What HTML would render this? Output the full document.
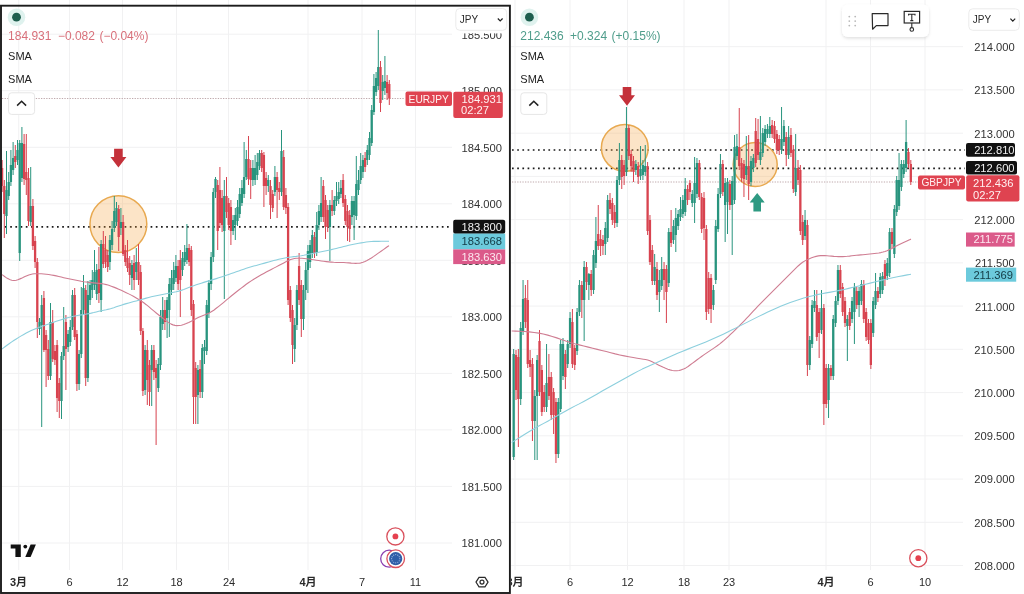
<!DOCTYPE html>
<html><head><meta charset="utf-8"><style>
html,body{margin:0;padding:0;background:#fff;overflow:hidden;}
svg{display:block;}
</style></head><body>
<svg width="1024" height="594" viewBox="0 0 1024 594" font-family='"Liberation Sans", "Noto Sans CJK JP", sans-serif'>
<rect width="1024" height="594" fill="#ffffff"/>
<line x1="2" x2="452" y1="34.2" y2="34.2" stroke="#f1f1f2" stroke-width="1"/>
<line x1="2" x2="452" y1="90.7" y2="90.7" stroke="#f1f1f2" stroke-width="1"/>
<line x1="2" x2="452" y1="147.3" y2="147.3" stroke="#f1f1f2" stroke-width="1"/>
<line x1="2" x2="452" y1="203.8" y2="203.8" stroke="#f1f1f2" stroke-width="1"/>
<line x1="2" x2="452" y1="260.3" y2="260.3" stroke="#f1f1f2" stroke-width="1"/>
<line x1="2" x2="452" y1="316.8" y2="316.8" stroke="#f1f1f2" stroke-width="1"/>
<line x1="2" x2="452" y1="373.4" y2="373.4" stroke="#f1f1f2" stroke-width="1"/>
<line x1="2" x2="452" y1="429.9" y2="429.9" stroke="#f1f1f2" stroke-width="1"/>
<line x1="2" x2="452" y1="486.4" y2="486.4" stroke="#f1f1f2" stroke-width="1"/>
<line x1="2" x2="452" y1="543.0" y2="543.0" stroke="#f1f1f2" stroke-width="1"/>
<line x1="18.75" x2="18.75" y1="0" y2="570" stroke="#f1f1f2" stroke-width="1"/>
<line x1="69.5" x2="69.5" y1="0" y2="570" stroke="#f1f1f2" stroke-width="1"/>
<line x1="122.5" x2="122.5" y1="0" y2="570" stroke="#f1f1f2" stroke-width="1"/>
<line x1="176.5" x2="176.5" y1="0" y2="570" stroke="#f1f1f2" stroke-width="1"/>
<line x1="228.5" x2="228.5" y1="0" y2="570" stroke="#f1f1f2" stroke-width="1"/>
<line x1="308" x2="308" y1="0" y2="570" stroke="#f1f1f2" stroke-width="1"/>
<line x1="362" x2="362" y1="0" y2="570" stroke="#f1f1f2" stroke-width="1"/>
<line x1="415.5" x2="415.5" y1="0" y2="570" stroke="#f1f1f2" stroke-width="1"/>
<line x1="511" x2="963" y1="46.7" y2="46.7" stroke="#f1f1f2" stroke-width="1"/>
<line x1="511" x2="963" y1="89.9" y2="89.9" stroke="#f1f1f2" stroke-width="1"/>
<line x1="511" x2="963" y1="133.2" y2="133.2" stroke="#f1f1f2" stroke-width="1"/>
<line x1="511" x2="963" y1="176.4" y2="176.4" stroke="#f1f1f2" stroke-width="1"/>
<line x1="511" x2="963" y1="219.6" y2="219.6" stroke="#f1f1f2" stroke-width="1"/>
<line x1="511" x2="963" y1="262.9" y2="262.9" stroke="#f1f1f2" stroke-width="1"/>
<line x1="511" x2="963" y1="306.1" y2="306.1" stroke="#f1f1f2" stroke-width="1"/>
<line x1="511" x2="963" y1="349.3" y2="349.3" stroke="#f1f1f2" stroke-width="1"/>
<line x1="511" x2="963" y1="392.6" y2="392.6" stroke="#f1f1f2" stroke-width="1"/>
<line x1="511" x2="963" y1="435.8" y2="435.8" stroke="#f1f1f2" stroke-width="1"/>
<line x1="511" x2="963" y1="479.1" y2="479.1" stroke="#f1f1f2" stroke-width="1"/>
<line x1="511" x2="963" y1="522.3" y2="522.3" stroke="#f1f1f2" stroke-width="1"/>
<line x1="511" x2="963" y1="565.5" y2="565.5" stroke="#f1f1f2" stroke-width="1"/>
<line x1="515" x2="515" y1="0" y2="570" stroke="#f1f1f2" stroke-width="1"/>
<line x1="570" x2="570" y1="0" y2="570" stroke="#f1f1f2" stroke-width="1"/>
<line x1="627.5" x2="627.5" y1="0" y2="570" stroke="#f1f1f2" stroke-width="1"/>
<line x1="684" x2="684" y1="0" y2="570" stroke="#f1f1f2" stroke-width="1"/>
<line x1="729" x2="729" y1="0" y2="570" stroke="#f1f1f2" stroke-width="1"/>
<line x1="826" x2="826" y1="0" y2="570" stroke="#f1f1f2" stroke-width="1"/>
<line x1="870.5" x2="870.5" y1="0" y2="570" stroke="#f1f1f2" stroke-width="1"/>
<line x1="925" x2="925" y1="0" y2="570" stroke="#f1f1f2" stroke-width="1"/>
<line x1="5" y1="226.9" x2="452" y2="226.9" stroke="#1a1a1a" stroke-width="1.7" stroke-dasharray="1.7 3.5"/>
<line x1="512" y1="150.0" x2="965" y2="150.0" stroke="#1a1a1a" stroke-width="1.7" stroke-dasharray="1.7 3.5"/>
<line x1="512" y1="168.4" x2="965" y2="168.4" stroke="#1a1a1a" stroke-width="1.7" stroke-dasharray="1.7 3.5"/>
<line x1="2" y1="98.5" x2="405" y2="98.5" stroke="#bfa9ac" stroke-width="1" stroke-dasharray="1.3 1.3"/>
<line x1="512" y1="182.0" x2="918" y2="182.0" stroke="#bfa9ac" stroke-width="1" stroke-dasharray="1.3 1.3"/>
<circle cx="118.4" cy="224.1" r="28.4" fill="rgba(245,166,70,0.30)" stroke="#e8a950" stroke-width="1.5"/>
<circle cx="624.8" cy="147.8" r="23.4" fill="rgba(245,166,70,0.30)" stroke="#e8a950" stroke-width="1.5"/>
<circle cx="755.2" cy="164.5" r="22.0" fill="rgba(245,166,70,0.30)" stroke="#e8a950" stroke-width="1.5"/>
<rect x="1.60" y="160" width="1.0" height="32" fill="#d8434f"/>
<rect x="0.95" y="168" width="2.3" height="18" fill="#d8434f"/>
<rect x="3.80" y="180" width="1.0" height="58" fill="#d8434f"/>
<rect x="3.15" y="186" width="2.3" height="28" fill="#d8434f"/>
<rect x="6.00" y="151" width="1.0" height="83" fill="#28947e"/>
<rect x="5.35" y="190" width="2.3" height="26" fill="#28947e"/>
<rect x="8.20" y="172" width="1.0" height="28" fill="#28947e"/>
<rect x="7.55" y="182" width="2.3" height="14" fill="#28947e"/>
<rect x="10.40" y="150" width="1.0" height="36" fill="#28947e"/>
<rect x="9.75" y="165" width="2.3" height="17" fill="#28947e"/>
<rect x="12.60" y="142" width="1.0" height="33" fill="#28947e"/>
<rect x="11.95" y="158" width="2.3" height="12" fill="#28947e"/>
<rect x="14.80" y="145" width="1.0" height="23" fill="#d8434f"/>
<rect x="14.15" y="156" width="2.3" height="6" fill="#d8434f"/>
<rect x="17.00" y="140" width="1.0" height="25" fill="#28947e"/>
<rect x="16.35" y="150" width="2.3" height="10" fill="#28947e"/>
<rect x="19.20" y="140" width="1.0" height="121" fill="#28947e"/>
<rect x="18.55" y="143" width="2.3" height="110" fill="#28947e"/>
<rect x="21.40" y="127" width="1.0" height="55" fill="#28947e"/>
<rect x="20.75" y="143" width="2.3" height="35" fill="#28947e"/>
<rect x="23.60" y="134" width="1.0" height="51" fill="#d8434f"/>
<rect x="22.95" y="144" width="2.3" height="35" fill="#d8434f"/>
<rect x="25.80" y="134" width="1.0" height="61" fill="#d8434f"/>
<rect x="25.15" y="172" width="2.3" height="8" fill="#d8434f"/>
<rect x="28.00" y="168" width="1.0" height="58" fill="#d8434f"/>
<rect x="27.35" y="178" width="2.3" height="43" fill="#d8434f"/>
<rect x="30.20" y="167" width="1.0" height="59" fill="#28947e"/>
<rect x="29.55" y="206" width="2.3" height="16" fill="#28947e"/>
<rect x="32.40" y="199" width="1.0" height="51" fill="#d8434f"/>
<rect x="31.75" y="206" width="2.3" height="40" fill="#d8434f"/>
<rect x="34.60" y="236" width="1.0" height="32" fill="#d8434f"/>
<rect x="33.95" y="241" width="2.3" height="21" fill="#d8434f"/>
<rect x="36.80" y="258" width="1.0" height="80" fill="#d8434f"/>
<rect x="36.15" y="262" width="2.3" height="60" fill="#d8434f"/>
<rect x="39.00" y="318" width="1.0" height="17" fill="#28947e"/>
<rect x="38.35" y="322" width="2.3" height="7" fill="#28947e"/>
<rect x="41.20" y="295" width="1.0" height="132" fill="#28947e"/>
<rect x="40.55" y="305" width="2.3" height="20" fill="#28947e"/>
<rect x="43.40" y="291" width="1.0" height="61" fill="#d8434f"/>
<rect x="42.75" y="298" width="2.3" height="52" fill="#d8434f"/>
<rect x="45.60" y="330" width="1.0" height="57" fill="#d8434f"/>
<rect x="44.95" y="335" width="2.3" height="15" fill="#d8434f"/>
<rect x="47.80" y="340" width="1.0" height="40" fill="#d8434f"/>
<rect x="47.15" y="349" width="2.3" height="27" fill="#d8434f"/>
<rect x="50.00" y="303" width="1.0" height="77" fill="#28947e"/>
<rect x="49.35" y="322" width="2.3" height="54" fill="#28947e"/>
<rect x="52.20" y="310" width="1.0" height="52" fill="#d8434f"/>
<rect x="51.55" y="322" width="2.3" height="37" fill="#d8434f"/>
<rect x="54.40" y="345" width="1.0" height="20" fill="#d8434f"/>
<rect x="53.75" y="351" width="2.3" height="9" fill="#d8434f"/>
<rect x="56.60" y="340" width="1.0" height="72" fill="#d8434f"/>
<rect x="55.95" y="345" width="2.3" height="53" fill="#d8434f"/>
<rect x="58.80" y="378" width="1.0" height="40" fill="#d8434f"/>
<rect x="58.15" y="383" width="2.3" height="18" fill="#d8434f"/>
<rect x="61.00" y="352" width="1.0" height="67" fill="#28947e"/>
<rect x="60.35" y="356" width="2.3" height="45" fill="#28947e"/>
<rect x="63.20" y="307" width="1.0" height="53" fill="#28947e"/>
<rect x="62.55" y="346" width="2.3" height="10" fill="#28947e"/>
<rect x="65.40" y="315" width="1.0" height="75" fill="#d8434f"/>
<rect x="64.75" y="322" width="2.3" height="27" fill="#d8434f"/>
<rect x="67.60" y="330" width="1.0" height="22" fill="#28947e"/>
<rect x="66.95" y="334" width="2.3" height="13" fill="#28947e"/>
<rect x="69.80" y="320" width="1.0" height="26" fill="#28947e"/>
<rect x="69.15" y="327" width="2.3" height="15" fill="#28947e"/>
<rect x="72.00" y="290" width="1.0" height="40" fill="#28947e"/>
<rect x="71.35" y="295" width="2.3" height="32" fill="#28947e"/>
<rect x="74.20" y="288" width="1.0" height="52" fill="#d8434f"/>
<rect x="73.55" y="295" width="2.3" height="42" fill="#d8434f"/>
<rect x="76.40" y="330" width="1.0" height="61" fill="#d8434f"/>
<rect x="75.75" y="334" width="2.3" height="50" fill="#d8434f"/>
<rect x="78.60" y="350" width="1.0" height="40" fill="#28947e"/>
<rect x="77.95" y="354" width="2.3" height="30" fill="#28947e"/>
<rect x="80.80" y="287" width="1.0" height="71" fill="#28947e"/>
<rect x="80.15" y="310" width="2.3" height="44" fill="#28947e"/>
<rect x="83.00" y="275" width="1.0" height="40" fill="#28947e"/>
<rect x="82.35" y="288" width="2.3" height="22" fill="#28947e"/>
<rect x="85.20" y="285" width="1.0" height="101" fill="#d8434f"/>
<rect x="84.55" y="290" width="2.3" height="88" fill="#d8434f"/>
<rect x="87.40" y="281" width="1.0" height="101" fill="#28947e"/>
<rect x="86.75" y="295" width="2.3" height="83" fill="#28947e"/>
<rect x="89.60" y="280" width="1.0" height="25" fill="#28947e"/>
<rect x="88.95" y="285" width="2.3" height="15" fill="#28947e"/>
<rect x="91.80" y="270" width="1.0" height="28" fill="#28947e"/>
<rect x="91.15" y="280" width="2.3" height="10" fill="#28947e"/>
<rect x="94.00" y="250" width="1.0" height="40" fill="#28947e"/>
<rect x="93.35" y="272" width="2.3" height="13" fill="#28947e"/>
<rect x="96.20" y="264" width="1.0" height="36" fill="#28947e"/>
<rect x="95.55" y="270" width="2.3" height="24" fill="#28947e"/>
<rect x="98.40" y="247" width="1.0" height="56" fill="#d8434f"/>
<rect x="97.75" y="269" width="2.3" height="24" fill="#d8434f"/>
<rect x="100.60" y="240" width="1.0" height="72" fill="#28947e"/>
<rect x="99.95" y="244" width="2.3" height="56" fill="#28947e"/>
<rect x="102.80" y="231" width="1.0" height="37" fill="#d8434f"/>
<rect x="102.15" y="244" width="2.3" height="20" fill="#d8434f"/>
<rect x="105.00" y="236" width="1.0" height="32" fill="#d8434f"/>
<rect x="104.35" y="250" width="2.3" height="12" fill="#d8434f"/>
<rect x="107.20" y="250" width="1.0" height="22" fill="#d8434f"/>
<rect x="106.55" y="255" width="2.3" height="12" fill="#d8434f"/>
<rect x="109.40" y="235" width="1.0" height="35" fill="#28947e"/>
<rect x="108.75" y="240" width="2.3" height="22" fill="#28947e"/>
<rect x="111.60" y="221" width="1.0" height="29" fill="#28947e"/>
<rect x="110.95" y="229" width="2.3" height="16" fill="#28947e"/>
<rect x="113.80" y="196" width="1.0" height="36" fill="#28947e"/>
<rect x="113.15" y="211" width="2.3" height="17" fill="#28947e"/>
<rect x="116.00" y="202" width="1.0" height="24" fill="#28947e"/>
<rect x="115.35" y="208" width="2.3" height="14" fill="#28947e"/>
<rect x="118.20" y="205" width="1.0" height="46" fill="#d8434f"/>
<rect x="117.55" y="209" width="2.3" height="28" fill="#d8434f"/>
<rect x="120.40" y="208" width="1.0" height="27" fill="#28947e"/>
<rect x="119.75" y="222" width="2.3" height="6" fill="#28947e"/>
<rect x="122.60" y="215" width="1.0" height="41" fill="#d8434f"/>
<rect x="121.95" y="222" width="2.3" height="32" fill="#d8434f"/>
<rect x="124.80" y="245" width="1.0" height="21" fill="#d8434f"/>
<rect x="124.15" y="250" width="2.3" height="12" fill="#d8434f"/>
<rect x="127.00" y="240" width="1.0" height="32" fill="#d8434f"/>
<rect x="126.35" y="258" width="2.3" height="10" fill="#d8434f"/>
<rect x="129.20" y="256" width="1.0" height="29" fill="#d8434f"/>
<rect x="128.55" y="263" width="2.3" height="12" fill="#d8434f"/>
<rect x="131.40" y="260" width="1.0" height="30" fill="#28947e"/>
<rect x="130.75" y="265" width="2.3" height="13" fill="#28947e"/>
<rect x="133.60" y="255" width="1.0" height="35" fill="#d8434f"/>
<rect x="132.95" y="263" width="2.3" height="17" fill="#d8434f"/>
<rect x="135.80" y="248" width="1.0" height="32" fill="#28947e"/>
<rect x="135.15" y="262" width="2.3" height="10" fill="#28947e"/>
<rect x="138.00" y="244" width="1.0" height="41" fill="#d8434f"/>
<rect x="137.35" y="262" width="2.3" height="18" fill="#d8434f"/>
<rect x="140.20" y="265" width="1.0" height="70" fill="#d8434f"/>
<rect x="139.55" y="272" width="2.3" height="59" fill="#d8434f"/>
<rect x="142.40" y="328" width="1.0" height="68" fill="#d8434f"/>
<rect x="141.75" y="331" width="2.3" height="60" fill="#d8434f"/>
<rect x="144.60" y="345" width="1.0" height="50" fill="#28947e"/>
<rect x="143.95" y="350" width="2.3" height="40" fill="#28947e"/>
<rect x="146.80" y="340" width="1.0" height="65" fill="#d8434f"/>
<rect x="146.15" y="350" width="2.3" height="30" fill="#d8434f"/>
<rect x="149.00" y="360" width="1.0" height="46" fill="#d8434f"/>
<rect x="148.35" y="365" width="2.3" height="27" fill="#d8434f"/>
<rect x="151.20" y="345" width="1.0" height="61" fill="#28947e"/>
<rect x="150.55" y="350" width="2.3" height="20" fill="#28947e"/>
<rect x="153.40" y="345" width="1.0" height="35" fill="#d8434f"/>
<rect x="152.75" y="350" width="2.3" height="22" fill="#d8434f"/>
<rect x="155.60" y="360" width="1.0" height="85" fill="#d8434f"/>
<rect x="154.95" y="368" width="2.3" height="10" fill="#d8434f"/>
<rect x="157.80" y="358" width="1.0" height="34" fill="#28947e"/>
<rect x="157.15" y="364" width="2.3" height="24" fill="#28947e"/>
<rect x="160.00" y="310" width="1.0" height="60" fill="#28947e"/>
<rect x="159.35" y="317" width="2.3" height="48" fill="#28947e"/>
<rect x="162.20" y="297" width="1.0" height="33" fill="#28947e"/>
<rect x="161.55" y="310" width="2.3" height="14" fill="#28947e"/>
<rect x="164.40" y="300" width="1.0" height="30" fill="#d8434f"/>
<rect x="163.75" y="310" width="2.3" height="12" fill="#d8434f"/>
<rect x="166.60" y="297" width="1.0" height="41" fill="#28947e"/>
<rect x="165.95" y="300" width="2.3" height="18" fill="#28947e"/>
<rect x="168.80" y="278" width="1.0" height="59" fill="#28947e"/>
<rect x="168.15" y="284" width="2.3" height="26" fill="#28947e"/>
<rect x="171.00" y="270" width="1.0" height="25" fill="#28947e"/>
<rect x="170.35" y="278" width="2.3" height="12" fill="#28947e"/>
<rect x="173.20" y="262" width="1.0" height="28" fill="#28947e"/>
<rect x="172.55" y="270" width="2.3" height="14" fill="#28947e"/>
<rect x="175.40" y="255" width="1.0" height="27" fill="#28947e"/>
<rect x="174.75" y="266" width="2.3" height="12" fill="#28947e"/>
<rect x="177.60" y="260" width="1.0" height="30" fill="#d8434f"/>
<rect x="176.95" y="266" width="2.3" height="18" fill="#d8434f"/>
<rect x="179.80" y="250" width="1.0" height="67" fill="#d8434f"/>
<rect x="179.15" y="260" width="2.3" height="20" fill="#d8434f"/>
<rect x="182.00" y="252" width="1.0" height="24" fill="#28947e"/>
<rect x="181.35" y="258" width="2.3" height="12" fill="#28947e"/>
<rect x="184.20" y="245" width="1.0" height="21" fill="#28947e"/>
<rect x="183.55" y="252" width="2.3" height="10" fill="#28947e"/>
<rect x="186.40" y="224" width="1.0" height="40" fill="#28947e"/>
<rect x="185.75" y="248" width="2.3" height="12" fill="#28947e"/>
<rect x="188.60" y="244" width="1.0" height="22" fill="#d8434f"/>
<rect x="187.95" y="248" width="2.3" height="14" fill="#d8434f"/>
<rect x="190.80" y="246" width="1.0" height="70" fill="#d8434f"/>
<rect x="190.15" y="250" width="2.3" height="60" fill="#d8434f"/>
<rect x="193.00" y="300" width="1.0" height="124" fill="#d8434f"/>
<rect x="192.35" y="304" width="2.3" height="93" fill="#d8434f"/>
<rect x="195.20" y="362" width="1.0" height="62" fill="#d8434f"/>
<rect x="194.55" y="368" width="2.3" height="29" fill="#d8434f"/>
<rect x="197.40" y="365" width="1.0" height="59" fill="#28947e"/>
<rect x="196.75" y="370" width="2.3" height="25" fill="#28947e"/>
<rect x="199.60" y="360" width="1.0" height="38" fill="#d8434f"/>
<rect x="198.95" y="369" width="2.3" height="23" fill="#d8434f"/>
<rect x="201.80" y="344" width="1.0" height="54" fill="#28947e"/>
<rect x="201.15" y="348" width="2.3" height="44" fill="#28947e"/>
<rect x="204.00" y="340" width="1.0" height="24" fill="#28947e"/>
<rect x="203.35" y="347" width="2.3" height="4" fill="#28947e"/>
<rect x="206.20" y="300" width="1.0" height="55" fill="#28947e"/>
<rect x="205.55" y="305" width="2.3" height="46" fill="#28947e"/>
<rect x="208.40" y="280" width="1.0" height="38" fill="#28947e"/>
<rect x="207.75" y="283" width="2.3" height="30" fill="#28947e"/>
<rect x="210.60" y="252" width="1.0" height="38" fill="#28947e"/>
<rect x="209.95" y="257" width="2.3" height="27" fill="#28947e"/>
<rect x="212.80" y="188" width="1.0" height="74" fill="#28947e"/>
<rect x="212.15" y="192" width="2.3" height="65" fill="#28947e"/>
<rect x="215.00" y="177" width="1.0" height="21" fill="#28947e"/>
<rect x="214.35" y="179" width="2.3" height="13" fill="#28947e"/>
<rect x="217.20" y="180" width="1.0" height="70" fill="#d8434f"/>
<rect x="216.55" y="185" width="2.3" height="46" fill="#d8434f"/>
<rect x="219.40" y="167" width="1.0" height="61" fill="#d8434f"/>
<rect x="218.75" y="190" width="2.3" height="33" fill="#d8434f"/>
<rect x="221.60" y="190" width="1.0" height="42" fill="#d8434f"/>
<rect x="220.95" y="198" width="2.3" height="27" fill="#d8434f"/>
<rect x="223.80" y="180" width="1.0" height="119" fill="#28947e"/>
<rect x="223.15" y="196" width="2.3" height="35" fill="#28947e"/>
<rect x="226.00" y="177" width="1.0" height="41" fill="#d8434f"/>
<rect x="225.35" y="196" width="2.3" height="16" fill="#d8434f"/>
<rect x="228.20" y="198" width="1.0" height="32" fill="#d8434f"/>
<rect x="227.55" y="203" width="2.3" height="22" fill="#d8434f"/>
<rect x="230.40" y="200" width="1.0" height="45" fill="#d8434f"/>
<rect x="229.75" y="207" width="2.3" height="24" fill="#d8434f"/>
<rect x="232.60" y="215" width="1.0" height="20" fill="#28947e"/>
<rect x="231.95" y="220" width="2.3" height="11" fill="#28947e"/>
<rect x="234.80" y="208" width="1.0" height="32" fill="#28947e"/>
<rect x="234.15" y="215" width="2.3" height="10" fill="#28947e"/>
<rect x="237.00" y="200" width="1.0" height="26" fill="#28947e"/>
<rect x="236.35" y="207" width="2.3" height="14" fill="#28947e"/>
<rect x="239.20" y="188" width="1.0" height="30" fill="#28947e"/>
<rect x="238.55" y="194" width="2.3" height="20" fill="#28947e"/>
<rect x="241.40" y="180" width="1.0" height="26" fill="#28947e"/>
<rect x="240.75" y="188" width="2.3" height="15" fill="#28947e"/>
<rect x="243.60" y="142" width="1.0" height="56" fill="#28947e"/>
<rect x="242.95" y="177" width="2.3" height="17" fill="#28947e"/>
<rect x="245.80" y="150" width="1.0" height="30" fill="#28947e"/>
<rect x="245.15" y="159" width="2.3" height="18" fill="#28947e"/>
<rect x="248.00" y="136" width="1.0" height="49" fill="#d8434f"/>
<rect x="247.35" y="159" width="2.3" height="20" fill="#d8434f"/>
<rect x="250.20" y="160" width="1.0" height="39" fill="#d8434f"/>
<rect x="249.55" y="168" width="2.3" height="12" fill="#d8434f"/>
<rect x="252.40" y="160" width="1.0" height="26" fill="#28947e"/>
<rect x="251.75" y="168" width="2.3" height="12" fill="#28947e"/>
<rect x="254.60" y="155" width="1.0" height="30" fill="#28947e"/>
<rect x="253.95" y="168" width="2.3" height="12" fill="#28947e"/>
<rect x="256.80" y="153" width="1.0" height="27" fill="#28947e"/>
<rect x="256.15" y="162" width="2.3" height="13" fill="#28947e"/>
<rect x="259.00" y="150" width="1.0" height="20" fill="#28947e"/>
<rect x="258.35" y="153" width="2.3" height="13" fill="#28947e"/>
<rect x="261.20" y="150" width="1.0" height="22" fill="#d8434f"/>
<rect x="260.55" y="153" width="2.3" height="15" fill="#d8434f"/>
<rect x="263.40" y="152" width="1.0" height="55" fill="#d8434f"/>
<rect x="262.75" y="155" width="2.3" height="31" fill="#d8434f"/>
<rect x="265.60" y="172" width="1.0" height="23" fill="#d8434f"/>
<rect x="264.95" y="178" width="2.3" height="8" fill="#d8434f"/>
<rect x="267.80" y="175" width="1.0" height="17" fill="#28947e"/>
<rect x="267.15" y="180" width="2.3" height="6" fill="#28947e"/>
<rect x="270.00" y="180" width="1.0" height="39" fill="#d8434f"/>
<rect x="269.35" y="186" width="2.3" height="19" fill="#d8434f"/>
<rect x="272.20" y="190" width="1.0" height="22" fill="#d8434f"/>
<rect x="271.55" y="194" width="2.3" height="14" fill="#d8434f"/>
<rect x="274.40" y="166" width="1.0" height="30" fill="#28947e"/>
<rect x="273.75" y="177" width="2.3" height="15" fill="#28947e"/>
<rect x="276.60" y="172" width="1.0" height="46" fill="#d8434f"/>
<rect x="275.95" y="177" width="2.3" height="13" fill="#d8434f"/>
<rect x="278.80" y="182" width="1.0" height="18" fill="#d8434f"/>
<rect x="278.15" y="188" width="2.3" height="4" fill="#d8434f"/>
<rect x="281.00" y="130" width="1.0" height="66" fill="#28947e"/>
<rect x="280.35" y="151" width="2.3" height="41" fill="#28947e"/>
<rect x="283.20" y="150" width="1.0" height="60" fill="#d8434f"/>
<rect x="282.55" y="157" width="2.3" height="50" fill="#d8434f"/>
<rect x="285.40" y="188" width="1.0" height="26" fill="#d8434f"/>
<rect x="284.75" y="195" width="2.3" height="13" fill="#d8434f"/>
<rect x="287.60" y="203" width="1.0" height="102" fill="#d8434f"/>
<rect x="286.95" y="207" width="2.3" height="93" fill="#d8434f"/>
<rect x="289.80" y="286" width="1.0" height="36" fill="#d8434f"/>
<rect x="289.15" y="290" width="2.3" height="28" fill="#d8434f"/>
<rect x="292.00" y="305" width="1.0" height="59" fill="#d8434f"/>
<rect x="291.35" y="310" width="2.3" height="35" fill="#d8434f"/>
<rect x="294.20" y="318" width="1.0" height="44" fill="#28947e"/>
<rect x="293.55" y="325" width="2.3" height="24" fill="#28947e"/>
<rect x="296.40" y="285" width="1.0" height="45" fill="#28947e"/>
<rect x="295.75" y="290" width="2.3" height="35" fill="#28947e"/>
<rect x="298.60" y="253" width="1.0" height="52" fill="#d8434f"/>
<rect x="297.95" y="266" width="2.3" height="34" fill="#d8434f"/>
<rect x="300.80" y="280" width="1.0" height="57" fill="#d8434f"/>
<rect x="300.15" y="285" width="2.3" height="34" fill="#d8434f"/>
<rect x="303.00" y="285" width="1.0" height="45" fill="#28947e"/>
<rect x="302.35" y="290" width="2.3" height="29" fill="#28947e"/>
<rect x="305.20" y="262" width="1.0" height="38" fill="#28947e"/>
<rect x="304.55" y="270" width="2.3" height="20" fill="#28947e"/>
<rect x="307.40" y="245" width="1.0" height="48" fill="#28947e"/>
<rect x="306.75" y="251" width="2.3" height="19" fill="#28947e"/>
<rect x="309.60" y="240" width="1.0" height="28" fill="#28947e"/>
<rect x="308.95" y="245" width="2.3" height="17" fill="#28947e"/>
<rect x="311.80" y="230" width="1.0" height="28" fill="#28947e"/>
<rect x="311.15" y="235" width="2.3" height="18" fill="#28947e"/>
<rect x="314.00" y="232" width="1.0" height="26" fill="#d8434f"/>
<rect x="313.35" y="237" width="2.3" height="16" fill="#d8434f"/>
<rect x="316.20" y="212" width="1.0" height="44" fill="#28947e"/>
<rect x="315.55" y="225" width="2.3" height="28" fill="#28947e"/>
<rect x="318.40" y="205" width="1.0" height="25" fill="#28947e"/>
<rect x="317.75" y="211" width="2.3" height="14" fill="#28947e"/>
<rect x="320.60" y="177" width="1.0" height="45" fill="#28947e"/>
<rect x="319.95" y="203" width="2.3" height="14" fill="#28947e"/>
<rect x="322.80" y="180" width="1.0" height="42" fill="#d8434f"/>
<rect x="322.15" y="186" width="2.3" height="31" fill="#d8434f"/>
<rect x="325.00" y="195" width="1.0" height="44" fill="#d8434f"/>
<rect x="324.35" y="200" width="2.3" height="27" fill="#d8434f"/>
<rect x="327.20" y="205" width="1.0" height="27" fill="#d8434f"/>
<rect x="326.55" y="210" width="2.3" height="17" fill="#d8434f"/>
<rect x="329.40" y="200" width="1.0" height="61" fill="#28947e"/>
<rect x="328.75" y="205" width="2.3" height="22" fill="#28947e"/>
<rect x="331.60" y="190" width="1.0" height="26" fill="#d8434f"/>
<rect x="330.95" y="205" width="2.3" height="6" fill="#d8434f"/>
<rect x="333.80" y="196" width="1.0" height="19" fill="#28947e"/>
<rect x="333.15" y="200" width="2.3" height="11" fill="#28947e"/>
<rect x="336.00" y="182" width="1.0" height="24" fill="#28947e"/>
<rect x="335.35" y="196" width="2.3" height="5" fill="#28947e"/>
<rect x="338.20" y="182" width="1.0" height="22" fill="#28947e"/>
<rect x="337.55" y="192" width="2.3" height="7" fill="#28947e"/>
<rect x="340.40" y="180" width="1.0" height="18" fill="#28947e"/>
<rect x="339.75" y="188" width="2.3" height="6" fill="#28947e"/>
<rect x="342.60" y="174" width="1.0" height="33" fill="#d8434f"/>
<rect x="341.95" y="180" width="2.3" height="23" fill="#d8434f"/>
<rect x="344.80" y="195" width="1.0" height="30" fill="#d8434f"/>
<rect x="344.15" y="199" width="2.3" height="22" fill="#d8434f"/>
<rect x="347.00" y="205" width="1.0" height="36" fill="#d8434f"/>
<rect x="346.35" y="211" width="2.3" height="16" fill="#d8434f"/>
<rect x="349.20" y="210" width="1.0" height="32" fill="#d8434f"/>
<rect x="348.55" y="215" width="2.3" height="14" fill="#d8434f"/>
<rect x="351.40" y="196" width="1.0" height="29" fill="#28947e"/>
<rect x="350.75" y="201" width="2.3" height="16" fill="#28947e"/>
<rect x="353.60" y="196" width="1.0" height="44" fill="#28947e"/>
<rect x="352.95" y="201" width="2.3" height="14" fill="#28947e"/>
<rect x="355.80" y="156" width="1.0" height="64" fill="#28947e"/>
<rect x="355.15" y="184" width="2.3" height="32" fill="#28947e"/>
<rect x="358.00" y="170" width="1.0" height="25" fill="#28947e"/>
<rect x="357.35" y="180" width="2.3" height="10" fill="#28947e"/>
<rect x="360.20" y="153" width="1.0" height="31" fill="#28947e"/>
<rect x="359.55" y="166" width="2.3" height="14" fill="#28947e"/>
<rect x="362.40" y="155" width="1.0" height="23" fill="#28947e"/>
<rect x="361.75" y="160" width="2.3" height="12" fill="#28947e"/>
<rect x="364.60" y="152" width="1.0" height="20" fill="#d8434f"/>
<rect x="363.95" y="158" width="2.3" height="9" fill="#d8434f"/>
<rect x="366.80" y="145" width="1.0" height="20" fill="#28947e"/>
<rect x="366.15" y="150" width="2.3" height="10" fill="#28947e"/>
<rect x="369.00" y="132" width="1.0" height="28" fill="#28947e"/>
<rect x="368.35" y="138" width="2.3" height="17" fill="#28947e"/>
<rect x="371.20" y="105" width="1.0" height="41" fill="#28947e"/>
<rect x="370.55" y="110" width="2.3" height="33" fill="#28947e"/>
<rect x="373.40" y="74" width="1.0" height="41" fill="#28947e"/>
<rect x="372.75" y="86" width="2.3" height="26" fill="#28947e"/>
<rect x="375.60" y="72" width="1.0" height="24" fill="#28947e"/>
<rect x="374.95" y="78" width="2.3" height="14" fill="#28947e"/>
<rect x="377.80" y="30" width="1.0" height="60" fill="#28947e"/>
<rect x="377.15" y="67" width="2.3" height="19" fill="#28947e"/>
<rect x="380.00" y="61" width="1.0" height="51" fill="#d8434f"/>
<rect x="379.35" y="67" width="2.3" height="36" fill="#d8434f"/>
<rect x="382.20" y="75" width="1.0" height="25" fill="#28947e"/>
<rect x="381.55" y="82" width="2.3" height="9" fill="#28947e"/>
<rect x="384.40" y="56" width="1.0" height="39" fill="#28947e"/>
<rect x="383.75" y="81" width="2.3" height="7" fill="#28947e"/>
<rect x="386.60" y="75" width="1.0" height="25" fill="#d8434f"/>
<rect x="385.95" y="82" width="2.3" height="11" fill="#d8434f"/>
<rect x="388.80" y="80" width="1.0" height="25" fill="#d8434f"/>
<rect x="388.15" y="84" width="2.3" height="14.5" fill="#d8434f"/>
<rect x="513.15" y="349" width="1.0" height="111" fill="#28947e"/>
<rect x="512.50" y="354" width="2.3" height="103" fill="#28947e"/>
<rect x="515.50" y="350" width="1.0" height="50" fill="#d8434f"/>
<rect x="514.85" y="355" width="2.3" height="35" fill="#d8434f"/>
<rect x="517.85" y="349" width="1.0" height="98" fill="#d8434f"/>
<rect x="517.20" y="357" width="2.3" height="42" fill="#d8434f"/>
<rect x="520.20" y="322" width="1.0" height="83" fill="#28947e"/>
<rect x="519.55" y="328" width="2.3" height="71" fill="#28947e"/>
<rect x="522.55" y="280" width="1.0" height="55" fill="#28947e"/>
<rect x="521.90" y="299" width="2.3" height="32" fill="#28947e"/>
<rect x="524.90" y="285" width="1.0" height="43" fill="#d8434f"/>
<rect x="524.25" y="298" width="2.3" height="24" fill="#d8434f"/>
<rect x="527.25" y="280" width="1.0" height="88" fill="#d8434f"/>
<rect x="526.60" y="300" width="2.3" height="64" fill="#d8434f"/>
<rect x="529.60" y="350" width="1.0" height="27" fill="#d8434f"/>
<rect x="528.95" y="360" width="2.3" height="7" fill="#d8434f"/>
<rect x="531.95" y="358" width="1.0" height="83" fill="#d8434f"/>
<rect x="531.30" y="364" width="2.3" height="57" fill="#d8434f"/>
<rect x="534.30" y="390" width="1.0" height="70" fill="#28947e"/>
<rect x="533.65" y="396" width="2.3" height="25" fill="#28947e"/>
<rect x="536.65" y="355" width="1.0" height="105" fill="#28947e"/>
<rect x="536.00" y="360" width="2.3" height="36" fill="#28947e"/>
<rect x="539.00" y="330" width="1.0" height="66" fill="#d8434f"/>
<rect x="538.35" y="341" width="2.3" height="51" fill="#d8434f"/>
<rect x="541.35" y="365" width="1.0" height="51" fill="#d8434f"/>
<rect x="540.70" y="370" width="2.3" height="42" fill="#d8434f"/>
<rect x="543.70" y="385" width="1.0" height="27" fill="#d8434f"/>
<rect x="543.05" y="392" width="2.3" height="15" fill="#d8434f"/>
<rect x="546.05" y="344" width="1.0" height="68" fill="#28947e"/>
<rect x="545.40" y="383" width="2.3" height="24" fill="#28947e"/>
<rect x="548.40" y="354" width="1.0" height="46" fill="#d8434f"/>
<rect x="547.75" y="377" width="2.3" height="19" fill="#d8434f"/>
<rect x="550.75" y="372" width="1.0" height="48" fill="#d8434f"/>
<rect x="550.10" y="377" width="2.3" height="38" fill="#d8434f"/>
<rect x="553.10" y="388" width="1.0" height="46" fill="#d8434f"/>
<rect x="552.45" y="392" width="2.3" height="23" fill="#d8434f"/>
<rect x="555.45" y="398" width="1.0" height="65" fill="#d8434f"/>
<rect x="554.80" y="402" width="2.3" height="52" fill="#d8434f"/>
<rect x="557.80" y="398" width="1.0" height="60" fill="#28947e"/>
<rect x="557.15" y="402" width="2.3" height="52" fill="#28947e"/>
<rect x="560.15" y="340" width="1.0" height="72" fill="#28947e"/>
<rect x="559.50" y="344" width="2.3" height="65" fill="#28947e"/>
<rect x="562.50" y="338" width="1.0" height="42" fill="#28947e"/>
<rect x="561.85" y="344" width="2.3" height="32" fill="#28947e"/>
<rect x="564.85" y="350" width="1.0" height="39" fill="#d8434f"/>
<rect x="564.20" y="354" width="2.3" height="23" fill="#d8434f"/>
<rect x="567.20" y="340" width="1.0" height="28" fill="#28947e"/>
<rect x="566.55" y="344" width="2.3" height="20" fill="#28947e"/>
<rect x="569.55" y="312" width="1.0" height="36" fill="#28947e"/>
<rect x="568.90" y="318" width="2.3" height="26" fill="#28947e"/>
<rect x="571.90" y="309" width="1.0" height="59" fill="#d8434f"/>
<rect x="571.25" y="322" width="2.3" height="42" fill="#d8434f"/>
<rect x="574.25" y="345" width="1.0" height="25" fill="#d8434f"/>
<rect x="573.60" y="348" width="2.3" height="17" fill="#d8434f"/>
<rect x="576.60" y="308" width="1.0" height="47" fill="#28947e"/>
<rect x="575.95" y="312" width="2.3" height="39" fill="#28947e"/>
<rect x="578.95" y="280" width="1.0" height="36" fill="#28947e"/>
<rect x="578.30" y="285" width="2.3" height="27" fill="#28947e"/>
<rect x="581.30" y="281" width="1.0" height="37" fill="#d8434f"/>
<rect x="580.65" y="285" width="2.3" height="15" fill="#d8434f"/>
<rect x="583.65" y="261" width="1.0" height="80" fill="#28947e"/>
<rect x="583.00" y="267" width="2.3" height="33" fill="#28947e"/>
<rect x="586.00" y="262" width="1.0" height="28" fill="#d8434f"/>
<rect x="585.35" y="267" width="2.3" height="15" fill="#d8434f"/>
<rect x="588.35" y="273" width="1.0" height="27" fill="#28947e"/>
<rect x="587.70" y="274" width="2.3" height="11" fill="#28947e"/>
<rect x="590.70" y="270" width="1.0" height="26" fill="#d8434f"/>
<rect x="590.05" y="274" width="2.3" height="16" fill="#d8434f"/>
<rect x="593.05" y="250" width="1.0" height="44" fill="#28947e"/>
<rect x="592.40" y="255" width="2.3" height="35" fill="#28947e"/>
<rect x="595.40" y="217" width="1.0" height="51" fill="#28947e"/>
<rect x="594.75" y="241" width="2.3" height="22" fill="#28947e"/>
<rect x="597.75" y="205" width="1.0" height="45" fill="#d8434f"/>
<rect x="597.10" y="234" width="2.3" height="12" fill="#d8434f"/>
<rect x="600.10" y="230" width="1.0" height="26" fill="#d8434f"/>
<rect x="599.45" y="239" width="2.3" height="7" fill="#d8434f"/>
<rect x="602.45" y="235" width="1.0" height="20" fill="#d8434f"/>
<rect x="601.80" y="240" width="2.3" height="6" fill="#d8434f"/>
<rect x="604.80" y="222" width="1.0" height="33" fill="#28947e"/>
<rect x="604.15" y="228" width="2.3" height="16" fill="#28947e"/>
<rect x="607.15" y="195" width="1.0" height="47" fill="#28947e"/>
<rect x="606.50" y="200" width="2.3" height="38" fill="#28947e"/>
<rect x="609.50" y="193" width="1.0" height="21" fill="#d8434f"/>
<rect x="608.85" y="200" width="2.3" height="9" fill="#d8434f"/>
<rect x="611.85" y="198" width="1.0" height="27" fill="#d8434f"/>
<rect x="611.20" y="203" width="2.3" height="17" fill="#d8434f"/>
<rect x="614.20" y="205" width="1.0" height="23" fill="#d8434f"/>
<rect x="613.55" y="212" width="2.3" height="11" fill="#d8434f"/>
<rect x="616.55" y="176" width="1.0" height="51" fill="#28947e"/>
<rect x="615.90" y="180" width="2.3" height="43" fill="#28947e"/>
<rect x="618.90" y="143" width="1.0" height="42" fill="#28947e"/>
<rect x="618.25" y="160" width="2.3" height="20" fill="#28947e"/>
<rect x="621.25" y="155" width="1.0" height="34" fill="#d8434f"/>
<rect x="620.60" y="160" width="2.3" height="17" fill="#d8434f"/>
<rect x="623.60" y="160" width="1.0" height="25" fill="#d8434f"/>
<rect x="622.95" y="165" width="2.3" height="11" fill="#d8434f"/>
<rect x="625.95" y="107" width="1.0" height="69" fill="#28947e"/>
<rect x="625.30" y="128" width="2.3" height="44" fill="#28947e"/>
<rect x="628.30" y="125" width="1.0" height="35" fill="#d8434f"/>
<rect x="627.65" y="128" width="2.3" height="28" fill="#d8434f"/>
<rect x="630.65" y="150" width="1.0" height="22" fill="#d8434f"/>
<rect x="630.00" y="154" width="2.3" height="12" fill="#d8434f"/>
<rect x="633.00" y="156" width="1.0" height="26" fill="#d8434f"/>
<rect x="632.35" y="161" width="2.3" height="11" fill="#d8434f"/>
<rect x="635.35" y="160" width="1.0" height="15" fill="#28947e"/>
<rect x="634.70" y="164" width="2.3" height="6" fill="#28947e"/>
<rect x="637.70" y="162" width="1.0" height="22" fill="#d8434f"/>
<rect x="637.05" y="166" width="2.3" height="11" fill="#d8434f"/>
<rect x="640.05" y="146" width="1.0" height="34" fill="#28947e"/>
<rect x="639.40" y="169" width="2.3" height="7" fill="#28947e"/>
<rect x="642.40" y="160" width="1.0" height="20" fill="#28947e"/>
<rect x="641.75" y="165" width="2.3" height="10" fill="#28947e"/>
<rect x="644.75" y="145" width="1.0" height="31" fill="#28947e"/>
<rect x="644.10" y="166" width="2.3" height="6" fill="#28947e"/>
<rect x="647.10" y="162" width="1.0" height="73" fill="#d8434f"/>
<rect x="646.45" y="166" width="2.3" height="65" fill="#d8434f"/>
<rect x="649.45" y="215" width="1.0" height="50" fill="#d8434f"/>
<rect x="648.80" y="220" width="2.3" height="42" fill="#d8434f"/>
<rect x="651.80" y="245" width="1.0" height="40" fill="#d8434f"/>
<rect x="651.15" y="250" width="2.3" height="31" fill="#d8434f"/>
<rect x="654.15" y="254" width="1.0" height="31" fill="#28947e"/>
<rect x="653.50" y="267" width="2.3" height="14" fill="#28947e"/>
<rect x="656.50" y="262" width="1.0" height="38" fill="#d8434f"/>
<rect x="655.85" y="269" width="2.3" height="26" fill="#d8434f"/>
<rect x="658.85" y="270" width="1.0" height="42" fill="#28947e"/>
<rect x="658.20" y="280" width="2.3" height="12" fill="#28947e"/>
<rect x="661.20" y="257" width="1.0" height="33" fill="#28947e"/>
<rect x="660.55" y="269" width="2.3" height="17" fill="#28947e"/>
<rect x="663.55" y="262" width="1.0" height="38" fill="#d8434f"/>
<rect x="662.90" y="269" width="2.3" height="11" fill="#d8434f"/>
<rect x="665.90" y="265" width="1.0" height="58" fill="#d8434f"/>
<rect x="665.25" y="269" width="2.3" height="23" fill="#d8434f"/>
<rect x="668.25" y="228" width="1.0" height="59" fill="#28947e"/>
<rect x="667.60" y="232" width="2.3" height="51" fill="#28947e"/>
<rect x="670.60" y="210" width="1.0" height="37" fill="#d8434f"/>
<rect x="669.95" y="232" width="2.3" height="11" fill="#d8434f"/>
<rect x="672.95" y="220" width="1.0" height="24" fill="#28947e"/>
<rect x="672.30" y="226" width="2.3" height="14" fill="#28947e"/>
<rect x="675.30" y="208" width="1.0" height="44" fill="#28947e"/>
<rect x="674.65" y="218" width="2.3" height="17" fill="#28947e"/>
<rect x="677.65" y="210" width="1.0" height="20" fill="#28947e"/>
<rect x="677.00" y="214" width="2.3" height="12" fill="#28947e"/>
<rect x="680.00" y="197" width="1.0" height="24" fill="#28947e"/>
<rect x="679.35" y="209" width="2.3" height="8" fill="#28947e"/>
<rect x="682.35" y="195" width="1.0" height="23" fill="#28947e"/>
<rect x="681.70" y="200" width="2.3" height="14" fill="#28947e"/>
<rect x="684.70" y="178" width="1.0" height="38" fill="#28947e"/>
<rect x="684.05" y="189" width="2.3" height="23" fill="#28947e"/>
<rect x="687.05" y="185" width="1.0" height="20" fill="#d8434f"/>
<rect x="686.40" y="189" width="2.3" height="11" fill="#d8434f"/>
<rect x="689.40" y="180" width="1.0" height="20" fill="#d8434f"/>
<rect x="688.75" y="183" width="2.3" height="9" fill="#d8434f"/>
<rect x="691.75" y="190" width="1.0" height="17" fill="#28947e"/>
<rect x="691.10" y="194" width="2.3" height="9" fill="#28947e"/>
<rect x="694.10" y="157" width="1.0" height="66" fill="#28947e"/>
<rect x="693.45" y="183" width="2.3" height="20" fill="#28947e"/>
<rect x="696.45" y="158" width="1.0" height="40" fill="#28947e"/>
<rect x="695.80" y="163" width="2.3" height="31" fill="#28947e"/>
<rect x="698.80" y="160" width="1.0" height="40" fill="#d8434f"/>
<rect x="698.15" y="163" width="2.3" height="34" fill="#d8434f"/>
<rect x="701.15" y="193" width="1.0" height="40" fill="#d8434f"/>
<rect x="700.50" y="197" width="2.3" height="32" fill="#d8434f"/>
<rect x="703.50" y="192" width="1.0" height="48" fill="#d8434f"/>
<rect x="702.85" y="198" width="2.3" height="30" fill="#d8434f"/>
<rect x="705.85" y="225" width="1.0" height="95" fill="#d8434f"/>
<rect x="705.20" y="229" width="2.3" height="83" fill="#d8434f"/>
<rect x="708.20" y="272" width="1.0" height="42" fill="#d8434f"/>
<rect x="707.55" y="278" width="2.3" height="31" fill="#d8434f"/>
<rect x="710.55" y="274" width="1.0" height="49" fill="#d8434f"/>
<rect x="709.90" y="278" width="2.3" height="31" fill="#d8434f"/>
<rect x="712.90" y="285" width="1.0" height="25" fill="#28947e"/>
<rect x="712.25" y="290" width="2.3" height="15" fill="#28947e"/>
<rect x="715.25" y="220" width="1.0" height="64" fill="#28947e"/>
<rect x="714.60" y="226" width="2.3" height="54" fill="#28947e"/>
<rect x="717.60" y="188" width="1.0" height="44" fill="#28947e"/>
<rect x="716.95" y="194" width="2.3" height="35" fill="#28947e"/>
<rect x="719.95" y="154" width="1.0" height="44" fill="#28947e"/>
<rect x="719.30" y="164" width="2.3" height="30" fill="#28947e"/>
<rect x="722.30" y="160" width="1.0" height="36" fill="#d8434f"/>
<rect x="721.65" y="164" width="2.3" height="28" fill="#d8434f"/>
<rect x="724.65" y="178" width="1.0" height="64" fill="#28947e"/>
<rect x="724.00" y="183" width="2.3" height="22" fill="#28947e"/>
<rect x="727.00" y="178" width="1.0" height="56" fill="#28947e"/>
<rect x="726.35" y="182" width="2.3" height="20" fill="#28947e"/>
<rect x="729.35" y="180" width="1.0" height="30" fill="#d8434f"/>
<rect x="728.70" y="184" width="2.3" height="21" fill="#d8434f"/>
<rect x="731.70" y="176" width="1.0" height="79" fill="#28947e"/>
<rect x="731.05" y="181" width="2.3" height="24" fill="#28947e"/>
<rect x="734.05" y="135" width="1.0" height="69" fill="#28947e"/>
<rect x="733.40" y="147" width="2.3" height="53" fill="#28947e"/>
<rect x="736.40" y="134" width="1.0" height="26" fill="#28947e"/>
<rect x="735.75" y="146" width="2.3" height="10" fill="#28947e"/>
<rect x="738.75" y="108" width="1.0" height="62" fill="#d8434f"/>
<rect x="738.10" y="147" width="2.3" height="19" fill="#d8434f"/>
<rect x="741.10" y="158" width="1.0" height="24" fill="#d8434f"/>
<rect x="740.45" y="163" width="2.3" height="15" fill="#d8434f"/>
<rect x="743.45" y="160" width="1.0" height="37" fill="#d8434f"/>
<rect x="742.80" y="164" width="2.3" height="15" fill="#d8434f"/>
<rect x="745.80" y="136" width="1.0" height="44" fill="#28947e"/>
<rect x="745.15" y="166" width="2.3" height="9" fill="#28947e"/>
<rect x="748.15" y="135" width="1.0" height="65" fill="#d8434f"/>
<rect x="747.50" y="166" width="2.3" height="18" fill="#d8434f"/>
<rect x="750.50" y="156" width="1.0" height="30" fill="#28947e"/>
<rect x="749.85" y="161" width="2.3" height="21" fill="#28947e"/>
<rect x="752.85" y="154" width="1.0" height="18" fill="#28947e"/>
<rect x="752.20" y="158" width="2.3" height="10" fill="#28947e"/>
<rect x="755.20" y="118" width="1.0" height="49" fill="#d8434f"/>
<rect x="754.55" y="131" width="2.3" height="32" fill="#d8434f"/>
<rect x="757.55" y="119" width="1.0" height="41" fill="#d8434f"/>
<rect x="756.90" y="139" width="2.3" height="16" fill="#d8434f"/>
<rect x="759.90" y="116" width="1.0" height="49" fill="#28947e"/>
<rect x="759.25" y="152" width="2.3" height="8" fill="#28947e"/>
<rect x="762.25" y="128" width="1.0" height="29" fill="#28947e"/>
<rect x="761.60" y="133" width="2.3" height="20" fill="#28947e"/>
<rect x="764.60" y="125" width="1.0" height="21" fill="#28947e"/>
<rect x="763.95" y="129" width="2.3" height="13" fill="#28947e"/>
<rect x="766.95" y="124" width="1.0" height="14" fill="#28947e"/>
<rect x="766.30" y="129" width="2.3" height="5" fill="#28947e"/>
<rect x="769.30" y="117" width="1.0" height="21" fill="#28947e"/>
<rect x="768.65" y="126" width="2.3" height="8" fill="#28947e"/>
<rect x="771.65" y="120" width="1.0" height="18" fill="#d8434f"/>
<rect x="771.00" y="125" width="2.3" height="9" fill="#d8434f"/>
<rect x="774.00" y="121" width="1.0" height="22" fill="#d8434f"/>
<rect x="773.35" y="126" width="2.3" height="13" fill="#d8434f"/>
<rect x="776.35" y="130" width="1.0" height="24" fill="#d8434f"/>
<rect x="775.70" y="134" width="2.3" height="16" fill="#d8434f"/>
<rect x="778.70" y="135" width="1.0" height="20" fill="#d8434f"/>
<rect x="778.05" y="139" width="2.3" height="11" fill="#d8434f"/>
<rect x="781.05" y="107" width="1.0" height="47" fill="#28947e"/>
<rect x="780.40" y="139" width="2.3" height="11" fill="#28947e"/>
<rect x="783.40" y="120" width="1.0" height="26" fill="#28947e"/>
<rect x="782.75" y="126" width="2.3" height="16" fill="#28947e"/>
<rect x="785.75" y="132" width="1.0" height="34" fill="#d8434f"/>
<rect x="785.10" y="137" width="2.3" height="18" fill="#d8434f"/>
<rect x="788.10" y="126" width="1.0" height="33" fill="#28947e"/>
<rect x="787.45" y="137" width="2.3" height="18" fill="#28947e"/>
<rect x="790.45" y="128" width="1.0" height="29" fill="#d8434f"/>
<rect x="789.80" y="135" width="2.3" height="18" fill="#d8434f"/>
<rect x="792.80" y="145" width="1.0" height="48" fill="#d8434f"/>
<rect x="792.15" y="150" width="2.3" height="39" fill="#d8434f"/>
<rect x="795.15" y="134" width="1.0" height="62" fill="#28947e"/>
<rect x="794.50" y="168" width="2.3" height="24" fill="#28947e"/>
<rect x="797.50" y="160" width="1.0" height="25" fill="#d8434f"/>
<rect x="796.85" y="168" width="2.3" height="12" fill="#d8434f"/>
<rect x="799.85" y="165" width="1.0" height="70" fill="#d8434f"/>
<rect x="799.20" y="170" width="2.3" height="61" fill="#d8434f"/>
<rect x="802.20" y="215" width="1.0" height="30" fill="#d8434f"/>
<rect x="801.55" y="222" width="2.3" height="18" fill="#d8434f"/>
<rect x="804.55" y="210" width="1.0" height="30" fill="#28947e"/>
<rect x="803.90" y="220" width="2.3" height="16" fill="#28947e"/>
<rect x="806.90" y="220" width="1.0" height="156" fill="#d8434f"/>
<rect x="806.25" y="225" width="2.3" height="140" fill="#d8434f"/>
<rect x="809.25" y="336" width="1.0" height="34" fill="#28947e"/>
<rect x="808.60" y="340" width="2.3" height="25" fill="#28947e"/>
<rect x="811.60" y="300" width="1.0" height="48" fill="#28947e"/>
<rect x="810.95" y="305" width="2.3" height="39" fill="#28947e"/>
<rect x="813.95" y="290" width="1.0" height="22" fill="#28947e"/>
<rect x="813.30" y="301" width="2.3" height="7" fill="#28947e"/>
<rect x="816.30" y="290" width="1.0" height="51" fill="#d8434f"/>
<rect x="815.65" y="305" width="2.3" height="32" fill="#d8434f"/>
<rect x="818.65" y="308" width="1.0" height="50" fill="#d8434f"/>
<rect x="818.00" y="312" width="2.3" height="21" fill="#d8434f"/>
<rect x="821.00" y="290" width="1.0" height="44" fill="#28947e"/>
<rect x="820.35" y="308" width="2.3" height="22" fill="#28947e"/>
<rect x="823.35" y="304" width="1.0" height="121" fill="#d8434f"/>
<rect x="822.70" y="308" width="2.3" height="96" fill="#d8434f"/>
<rect x="825.70" y="364" width="1.0" height="44" fill="#d8434f"/>
<rect x="825.05" y="368" width="2.3" height="36" fill="#d8434f"/>
<rect x="828.05" y="364" width="1.0" height="54" fill="#28947e"/>
<rect x="827.40" y="368" width="2.3" height="32" fill="#28947e"/>
<rect x="830.40" y="365" width="1.0" height="15" fill="#d8434f"/>
<rect x="829.75" y="368" width="2.3" height="8" fill="#d8434f"/>
<rect x="832.75" y="315" width="1.0" height="65" fill="#28947e"/>
<rect x="832.10" y="319" width="2.3" height="57" fill="#28947e"/>
<rect x="835.10" y="296" width="1.0" height="31" fill="#28947e"/>
<rect x="834.45" y="301" width="2.3" height="22" fill="#28947e"/>
<rect x="837.45" y="265" width="1.0" height="40" fill="#28947e"/>
<rect x="836.80" y="270" width="2.3" height="31" fill="#28947e"/>
<rect x="839.80" y="265" width="1.0" height="33" fill="#d8434f"/>
<rect x="839.15" y="270" width="2.3" height="24" fill="#d8434f"/>
<rect x="842.15" y="283" width="1.0" height="33" fill="#d8434f"/>
<rect x="841.50" y="287" width="2.3" height="25" fill="#d8434f"/>
<rect x="844.50" y="297" width="1.0" height="30" fill="#d8434f"/>
<rect x="843.85" y="301" width="2.3" height="22" fill="#d8434f"/>
<rect x="846.85" y="315" width="1.0" height="46" fill="#28947e"/>
<rect x="846.20" y="319" width="2.3" height="7" fill="#28947e"/>
<rect x="849.20" y="308" width="1.0" height="22" fill="#d8434f"/>
<rect x="848.55" y="312" width="2.3" height="14" fill="#d8434f"/>
<rect x="851.55" y="297" width="1.0" height="26" fill="#28947e"/>
<rect x="850.90" y="301" width="2.3" height="18" fill="#28947e"/>
<rect x="853.90" y="283" width="1.0" height="61" fill="#28947e"/>
<rect x="853.25" y="287" width="2.3" height="25" fill="#28947e"/>
<rect x="856.25" y="287" width="1.0" height="22" fill="#d8434f"/>
<rect x="855.60" y="291" width="2.3" height="14" fill="#d8434f"/>
<rect x="858.60" y="287" width="1.0" height="30" fill="#28947e"/>
<rect x="857.95" y="291" width="2.3" height="14" fill="#28947e"/>
<rect x="860.95" y="280" width="1.0" height="25" fill="#28947e"/>
<rect x="860.30" y="284" width="2.3" height="17" fill="#28947e"/>
<rect x="863.30" y="280" width="1.0" height="43" fill="#d8434f"/>
<rect x="862.65" y="284" width="2.3" height="35" fill="#d8434f"/>
<rect x="865.65" y="308" width="1.0" height="33" fill="#d8434f"/>
<rect x="865.00" y="312" width="2.3" height="25" fill="#d8434f"/>
<rect x="868.00" y="319" width="1.0" height="25" fill="#d8434f"/>
<rect x="867.35" y="323" width="2.3" height="17" fill="#d8434f"/>
<rect x="870.35" y="319" width="1.0" height="50" fill="#d8434f"/>
<rect x="869.70" y="323" width="2.3" height="42" fill="#d8434f"/>
<rect x="872.70" y="297" width="1.0" height="40" fill="#28947e"/>
<rect x="872.05" y="301" width="2.3" height="32" fill="#28947e"/>
<rect x="875.05" y="273" width="1.0" height="36" fill="#28947e"/>
<rect x="874.40" y="291" width="2.3" height="14" fill="#28947e"/>
<rect x="877.40" y="287" width="1.0" height="15" fill="#d8434f"/>
<rect x="876.75" y="291" width="2.3" height="7" fill="#d8434f"/>
<rect x="879.75" y="273" width="1.0" height="25" fill="#28947e"/>
<rect x="879.10" y="277" width="2.3" height="17" fill="#28947e"/>
<rect x="882.10" y="272" width="1.0" height="22" fill="#28947e"/>
<rect x="881.45" y="276" width="2.3" height="14" fill="#28947e"/>
<rect x="884.45" y="260" width="1.0" height="26" fill="#d8434f"/>
<rect x="883.80" y="264" width="2.3" height="16" fill="#d8434f"/>
<rect x="886.80" y="258" width="1.0" height="22" fill="#28947e"/>
<rect x="886.15" y="263" width="2.3" height="13" fill="#28947e"/>
<rect x="889.15" y="228" width="1.0" height="49" fill="#28947e"/>
<rect x="888.50" y="232" width="2.3" height="41" fill="#28947e"/>
<rect x="891.50" y="228" width="1.0" height="20" fill="#d8434f"/>
<rect x="890.85" y="232" width="2.3" height="12" fill="#d8434f"/>
<rect x="893.85" y="205" width="1.0" height="53" fill="#28947e"/>
<rect x="893.20" y="209" width="2.3" height="45" fill="#28947e"/>
<rect x="896.20" y="176" width="1.0" height="40" fill="#28947e"/>
<rect x="895.55" y="180" width="2.3" height="32" fill="#28947e"/>
<rect x="898.55" y="153" width="1.0" height="57" fill="#28947e"/>
<rect x="897.90" y="180" width="2.3" height="26" fill="#28947e"/>
<rect x="900.90" y="160" width="1.0" height="31" fill="#28947e"/>
<rect x="900.25" y="164" width="2.3" height="23" fill="#28947e"/>
<rect x="903.25" y="160" width="1.0" height="18" fill="#28947e"/>
<rect x="902.60" y="164" width="2.3" height="10" fill="#28947e"/>
<rect x="905.60" y="120" width="1.0" height="52" fill="#28947e"/>
<rect x="904.95" y="142" width="2.3" height="26" fill="#28947e"/>
<rect x="907.95" y="148" width="1.0" height="20" fill="#d8434f"/>
<rect x="907.30" y="152" width="2.3" height="12" fill="#d8434f"/>
<rect x="910.30" y="160" width="1.0" height="25" fill="#d8434f"/>
<rect x="909.65" y="164" width="2.3" height="18" fill="#d8434f"/>
<polyline points="2,274.6 2.38,274.88 3.12,275.43 4.25,276.25 5.75,277.35 7.25,278.3 8.75,279.1 10.25,279.75 11.75,280.25 13.25,280.5 14.75,280.5 16.25,280.25 17.75,279.75 19.38,279.12 21.12,278.38 23.0,277.5 25.0,276.5 26.94,275.66 28.81,274.97 30.62,274.44 32.38,274.06 34.31,273.81 36.44,273.69 38.75,273.69 41.25,273.81 43.75,274.0 46.25,274.25 48.75,274.56 51.25,274.94 53.75,275.38 56.25,275.88 58.75,276.44 61.25,277.06 63.75,277.66 66.25,278.22 68.75,278.75 71.25,279.25 73.75,279.75 76.25,280.25 78.75,280.75 81.25,281.25 83.75,281.69 86.25,282.06 88.75,282.38 91.25,282.62 93.75,282.88 96.25,283.12 98.75,283.38 101.25,283.62 103.75,284.03 106.25,284.59 108.75,285.31 111.25,286.19 113.75,287.12 116.25,288.12 118.75,289.19 121.25,290.31 123.75,291.47 126.25,292.66 128.75,293.88 131.25,295.12 133.75,296.47 136.25,297.91 138.75,299.44 141.25,301.06 143.75,302.81 146.25,304.69 148.75,306.69 151.25,308.81 153.75,310.91 156.25,312.97 158.75,315.0 161.25,317.0 163.56,318.81 165.69,320.44 167.62,321.88 169.38,323.12 171.19,324.12 173.06,324.88 175.0,325.38 177.0,325.62 179.12,325.56 181.38,325.19 183.75,324.5 186.25,323.5 188.75,322.41 191.25,321.22 193.75,319.94 196.25,318.56 198.75,317.31 201.25,316.19 203.75,315.19 206.25,314.31 208.75,313.19 211.25,311.81 213.75,310.19 216.25,308.31 218.75,306.38 221.25,304.38 223.75,302.31 226.25,300.19 228.75,298.09 231.25,296.03 233.75,294.0 236.25,292.0 238.75,290.03 241.25,288.09 243.75,286.19 246.25,284.31 248.75,282.53 251.25,280.84 253.75,279.25 256.25,277.75 258.75,276.28 261.25,274.84 263.75,273.44 266.25,272.06 268.75,270.72 271.25,269.41 273.75,268.12 276.25,266.88 278.75,265.59 281.25,264.28 283.75,262.94 286.25,261.56 288.56,260.44 290.69,259.56 292.62,258.94 294.38,258.56 296.19,258.31 298.06,258.19 300.0,258.19 302.0,258.31 304.12,258.5 306.38,258.75 308.75,259.06 311.25,259.44 313.75,259.81 316.25,260.19 318.75,260.56 321.25,260.94 323.75,261.28 326.25,261.59 328.75,261.88 331.25,262.12 333.75,262.31 336.25,262.44 338.75,262.5 341.25,262.5 343.75,262.56 346.25,262.69 348.75,262.88 351.25,263.12 353.56,263.28 355.69,263.34 357.62,263.31 359.38,263.19 361.19,262.84 363.06,262.28 365.0,261.5 367.0,260.5 369.12,259.31 371.38,257.94 373.75,256.38 376.25,254.62 378.69,252.91 381.06,251.24 383.38,249.6 385.62,248.0 387.31,246.8 388.44,246.0 389,245.6" fill="none" stroke="#cf7d92" stroke-width="1.1" stroke-opacity="1" stroke-linejoin="round"/>
<polyline points="2,349 2.5,348.62 3.5,347.88 5.0,346.75 7.0,345.25 9.12,343.72 11.38,342.16 13.75,340.56 16.25,338.94 18.75,337.38 21.25,335.88 23.75,334.44 26.25,333.06 28.75,331.78 31.25,330.59 33.75,329.5 36.25,328.5 38.75,327.53 41.25,326.59 43.75,325.69 46.25,324.81 48.75,323.94 51.25,323.06 53.75,322.19 56.25,321.31 58.75,320.47 61.25,319.66 63.75,318.88 66.25,318.12 68.75,317.44 71.25,316.81 73.75,316.25 76.25,315.75 78.75,315.28 81.25,314.84 83.75,314.44 86.25,314.06 88.75,313.62 91.25,313.12 93.75,312.56 96.25,311.94 98.75,311.34 101.25,310.78 103.75,310.25 106.25,309.75 108.75,309.16 111.25,308.47 113.75,307.69 116.25,306.81 118.75,305.97 121.25,305.16 123.75,304.38 126.25,303.62 128.75,302.91 131.25,302.22 133.75,301.56 136.25,300.94 138.75,300.28 141.25,299.59 143.75,298.88 146.25,298.12 148.75,297.44 151.25,296.81 153.75,296.25 156.25,295.75 158.75,295.25 161.25,294.75 163.75,294.25 166.25,293.75 168.75,293.25 171.25,292.75 173.75,292.25 176.25,291.75 178.75,291.12 181.25,290.38 183.75,289.5 186.25,288.5 188.75,287.53 191.25,286.59 193.75,285.69 196.25,284.81 198.75,283.97 201.25,283.16 203.75,282.38 206.25,281.62 208.75,280.88 211.25,280.12 213.75,279.38 216.25,278.62 218.75,277.84 221.25,277.03 223.75,276.19 226.25,275.31 228.75,274.44 231.25,273.56 233.75,272.69 236.25,271.81 238.75,270.94 241.25,270.06 243.75,269.19 246.25,268.31 248.75,267.5 251.25,266.75 253.75,266.06 256.25,265.44 258.75,264.78 261.25,264.09 263.75,263.38 266.25,262.62 268.75,261.91 271.25,261.22 273.75,260.56 276.25,259.94 278.75,259.34 281.25,258.78 283.75,258.25 286.25,257.75 288.75,257.31 291.25,256.94 293.75,256.62 296.25,256.38 298.75,256.06 301.25,255.69 303.75,255.25 306.25,254.75 308.75,254.25 311.25,253.75 313.75,253.25 316.25,252.75 318.75,252.25 321.25,251.75 323.75,251.25 326.25,250.75 328.75,250.22 331.25,249.66 333.75,249.06 336.25,248.44 338.75,247.81 341.25,247.19 343.75,246.56 346.25,245.94 348.75,245.34 351.25,244.78 353.75,244.25 356.25,243.75 358.75,243.28 361.25,242.84 363.75,242.44 366.25,242.06 368.75,241.77 371.25,241.56 373.75,241.42 376.25,241.38 378.69,241.34 381.06,241.31 383.38,241.3 385.62,241.3 387.31,241.3 388.44,241.3 389,241.3" fill="none" stroke="#8ccfdd" stroke-width="1.1" stroke-opacity="1" stroke-linejoin="round"/>
<polyline points="511.7,331 512.97,331.05 515.51,331.15 519.31,331.3 524.39,331.5 529.32,331.88 534.11,332.43 538.75,333.15 543.25,334.05 547.75,335.14 552.25,336.41 556.75,337.88 561.25,339.52 565.75,341.05 570.25,342.45 574.75,343.72 579.25,344.88 583.75,346.01 588.25,347.14 592.75,348.25 597.25,349.35 601.75,350.46 606.25,351.59 610.75,352.72 615.25,353.88 619.75,354.93 624.25,355.89 628.75,356.76 633.25,357.54 637.17,358.2 640.53,358.75 643.3,359.19 645.5,359.51 647.71,360.04 649.92,360.78 652.14,361.72 654.36,362.88 656.59,364.01 658.83,365.14 661.08,366.25 663.33,367.35 665.58,368.32 667.83,369.16 670.08,369.86 672.33,370.44 674.58,370.73 676.83,370.73 679.08,370.44 681.33,369.86 683.58,369.01 685.83,367.89 688.08,366.49 690.33,364.81 692.58,363.14 694.83,361.46 697.08,359.79 699.33,358.11 701.57,356.49 703.81,354.91 706.04,353.39 708.26,351.91 710.49,350.41 712.73,348.89 714.98,347.34 717.23,345.76 719.48,344.08 721.73,342.29 723.98,340.4 726.23,338.4 728.48,336.34 730.73,334.21 732.98,332.02 735.23,329.77 737.48,327.52 739.73,325.27 741.98,323.02 744.23,320.77 746.48,318.47 748.73,316.11 750.98,313.69 753.23,311.21 755.47,308.79 757.71,306.43 759.94,304.12 762.16,301.88 764.39,299.62 766.63,297.38 768.88,295.12 771.12,292.88 773.38,290.62 775.62,288.38 777.88,286.12 780.12,283.88 782.38,281.63 784.62,279.39 786.88,277.16 789.12,274.94 791.38,272.71 793.62,270.47 795.88,268.23 798.12,265.98 800.38,264.0 802.62,262.3 804.88,260.88 807.12,259.73 809.38,258.7 811.62,257.8 813.88,257.03 816.12,256.38 818.34,255.91 820.53,255.64 822.69,255.55 824.81,255.65 826.99,255.78 829.23,255.94 831.53,256.14 833.87,256.36 836.17,256.52 838.42,256.61 840.62,256.62 842.78,256.58 844.98,256.47 847.23,256.31 849.53,256.09 851.87,255.81 854.17,255.56 856.42,255.32 858.62,255.1 860.78,254.9 862.98,254.69 865.23,254.46 867.53,254.22 869.87,253.97 872.17,253.72 874.42,253.47 876.62,253.22 878.78,252.97 880.89,252.59 882.96,252.08 885.0,251.44 887.0,250.66 889.12,249.74 891.38,248.66 893.75,247.44 896.25,246.06 898.81,244.72 901.44,243.43 904.12,242.16 906.88,240.94 908.94,240.02 910.31,239.41 911,239.1" fill="none" stroke="#cf7d92" stroke-width="1.1" stroke-opacity="1" stroke-linejoin="round"/>
<polyline points="511.7,442.5 512.97,441.7 515.51,440.1 519.31,437.7 524.39,434.5 529.32,431.49 534.11,428.68 538.75,426.06 543.25,423.64 547.75,421.16 552.25,418.64 556.75,416.06 561.25,413.44 565.75,410.91 570.25,408.47 574.75,406.12 579.25,403.88 583.75,401.53 588.25,399.09 592.75,396.56 597.25,393.94 601.75,391.34 606.25,388.78 610.75,386.25 615.25,383.75 619.75,381.25 624.25,378.75 628.75,376.25 633.25,373.75 637.75,371.38 642.25,369.12 646.75,367.0 651.25,365.0 655.75,363.0 660.25,361.0 664.75,359.0 669.25,357.0 673.75,355.04 678.25,353.11 682.75,351.22 687.25,349.38 691.75,347.54 696.25,345.73 700.75,343.94 705.25,342.16 709.75,340.3 714.25,338.35 718.75,336.31 723.25,334.19 727.73,332.03 732.17,329.84 736.6,327.62 741.0,325.38 745.42,323.12 749.86,320.88 754.31,318.62 758.79,316.38 763.27,314.19 767.76,312.06 772.25,310.0 776.75,308.0 781.25,306.09 785.75,304.28 790.25,302.56 794.75,300.94 799.25,299.44 803.75,298.06 808.25,296.81 812.75,295.69 817.24,294.66 821.73,293.72 826.21,292.88 830.69,292.12 835.17,291.3 839.66,290.4 844.15,289.42 848.65,288.38 853.15,287.31 857.65,286.22 862.15,285.11 866.65,283.99 871.14,282.87 875.63,281.76 880.11,280.65 884.59,279.55 889.17,278.49 893.87,277.48 898.69,276.51 903.61,275.59 907.31,274.89 909.77,274.43 911,274.2" fill="none" stroke="#8ccfdd" stroke-width="1.1" stroke-opacity="1" stroke-linejoin="round"/>
<path d="M114.10000000000001,148.8 H122.7 V157.0 H126.4 L118.4,167.60000000000002 L110.4,157.0 H114.10000000000001 Z" fill="#c4313a"/>
<path d="M622.7,87 H631.3 V95.2 H635 L627,105.8 L619,95.2 H622.7 Z" fill="#c4313a"/>
<path d="M757.2,193 L764.7,202.5 H761.0 V211.6 H753.4000000000001 V202.5 H749.7 Z" fill="#2e9a82"/>
<text x="502" y="38.6" font-size="11.2" fill="#333333" text-anchor="end" font-weight="normal" >185.500</text>
<text x="502" y="95.13000000000001" font-size="11.2" fill="#333333" text-anchor="end" font-weight="normal" >185.000</text>
<text x="502" y="151.66" font-size="11.2" fill="#333333" text-anchor="end" font-weight="normal" >184.500</text>
<text x="502" y="208.19000000000003" font-size="11.2" fill="#333333" text-anchor="end" font-weight="normal" >184.000</text>
<text x="502" y="264.71999999999997" font-size="11.2" fill="#333333" text-anchor="end" font-weight="normal" >183.500</text>
<text x="502" y="321.24999999999994" font-size="11.2" fill="#333333" text-anchor="end" font-weight="normal" >183.000</text>
<text x="502" y="377.78" font-size="11.2" fill="#333333" text-anchor="end" font-weight="normal" >182.500</text>
<text x="502" y="434.31" font-size="11.2" fill="#333333" text-anchor="end" font-weight="normal" >182.000</text>
<text x="502" y="490.84" font-size="11.2" fill="#333333" text-anchor="end" font-weight="normal" >181.500</text>
<text x="502" y="547.37" font-size="11.2" fill="#333333" text-anchor="end" font-weight="normal" >181.000</text>
<text x="1014.7" y="51.1" font-size="11.2" fill="#333333" text-anchor="end" font-weight="normal" >214.000</text>
<text x="1014.7" y="94.33500000000001" font-size="11.2" fill="#333333" text-anchor="end" font-weight="normal" >213.500</text>
<text x="1014.7" y="137.57000000000002" font-size="11.2" fill="#333333" text-anchor="end" font-weight="normal" >213.000</text>
<text x="1014.7" y="224.04" font-size="11.2" fill="#333333" text-anchor="end" font-weight="normal" >212.000</text>
<text x="1014.7" y="267.275" font-size="11.2" fill="#333333" text-anchor="end" font-weight="normal" >211.500</text>
<text x="1014.7" y="310.50999999999993" font-size="11.2" fill="#333333" text-anchor="end" font-weight="normal" >211.000</text>
<text x="1014.7" y="353.74499999999995" font-size="11.2" fill="#333333" text-anchor="end" font-weight="normal" >210.500</text>
<text x="1014.7" y="396.97999999999996" font-size="11.2" fill="#333333" text-anchor="end" font-weight="normal" >210.000</text>
<text x="1014.7" y="440.215" font-size="11.2" fill="#333333" text-anchor="end" font-weight="normal" >209.500</text>
<text x="1014.7" y="483.45" font-size="11.2" fill="#333333" text-anchor="end" font-weight="normal" >209.000</text>
<text x="1014.7" y="526.685" font-size="11.2" fill="#333333" text-anchor="end" font-weight="normal" >208.500</text>
<text x="1014.7" y="569.92" font-size="11.2" fill="#333333" text-anchor="end" font-weight="normal" >208.000</text>
<rect x="453.2" y="219.8" width="52.0" height="14.0" rx="2" fill="#111111"/>
<text x="502" y="230.6" font-size="11.2" fill="#f0f0f0" text-anchor="end" font-weight="normal" >183.800</text>
<rect x="453.2" y="233.6" width="52.0" height="15.800000000000011" rx="0" fill="#6ccadc"/>
<text x="502" y="245.4" font-size="11.2" fill="#123a44" text-anchor="end" font-weight="normal" >183.668</text>
<rect x="453.2" y="249.4" width="52.0" height="14.700000000000017" rx="0" fill="#db5a8a"/>
<text x="502" y="260.6" font-size="11.2" fill="#fde8f0" text-anchor="end" font-weight="normal" >183.630</text>
<rect x="405.5" y="91.5" width="46.5" height="14.5" rx="2" fill="#df4350"/>
<text x="428.7" y="102.6" font-size="10.2" fill="#fff0f0" text-anchor="middle" font-weight="normal" >EURJPY</text>
<rect x="453.3" y="91.8" width="49.5" height="26.200000000000003" rx="2" fill="#df4350"/>
<text x="461.5" y="102.6" font-size="11.2" fill="#fff0f0" text-anchor="start" font-weight="normal" >184.931</text>
<text x="461.0" y="114.4" font-size="11.2" fill="#fff0f0" text-anchor="start" font-weight="normal" >02:27</text>
<rect x="966" y="143" width="49" height="13.699999999999989" rx="2" fill="#111111"/>
<text x="1014.6" y="153.8" font-size="11.2" fill="#f0f0f0" text-anchor="end" font-weight="normal" >212.810</text>
<rect x="966" y="161" width="51" height="13.400000000000006" rx="2" fill="#111111"/>
<text x="1014.6" y="171.8" font-size="11.2" fill="#f0f0f0" text-anchor="end" font-weight="normal" >212.600</text>
<rect x="918" y="175.5" width="47" height="13.900000000000006" rx="2" fill="#df4350"/>
<text x="941.5" y="186.4" font-size="10.2" fill="#fff0f0" text-anchor="middle" font-weight="normal" >GBPJPY</text>
<rect x="966.2" y="175.3" width="53.19999999999993" height="26.299999999999983" rx="2" fill="#df4350"/>
<text x="973" y="186.8" font-size="11.2" fill="#fff0f0" text-anchor="start" font-weight="normal" >212.436</text>
<text x="973" y="198.6" font-size="11.2" fill="#fff0f0" text-anchor="start" font-weight="normal" >02:27</text>
<rect x="966" y="232.5" width="48.700000000000045" height="14.099999999999994" rx="0" fill="#db5a8a"/>
<text x="1013" y="243.4" font-size="11.2" fill="#fde8f0" text-anchor="end" font-weight="normal" >211.775</text>
<rect x="966" y="267.6" width="50.200000000000045" height="14.099999999999966" rx="0" fill="#6ccadc"/>
<text x="1013" y="278.5" font-size="11.2" fill="#123a44" text-anchor="end" font-weight="normal" >211.369</text>
<rect x="455" y="8" width="52" height="25.4" fill="#fff"/>
<rect x="455.8" y="8.5" width="50.89999999999998" height="21.8" rx="4" fill="#ffffff" stroke="#ececec" stroke-width="1"/><text x="459.8" y="22.7" font-size="10.0" fill="#2a2a2a" text-anchor="start" font-weight="normal" >JPY</text><path d="M497.8,18.5 L500.2,20.9 L502.59999999999997,18.5" fill="none" stroke="#222" stroke-width="1.2"/>
<rect x="968.8" y="8.8" width="50.5" height="21.5" rx="4" fill="#ffffff" stroke="#ececec" stroke-width="1"/><text x="972.8" y="23.0" font-size="10.0" fill="#2a2a2a" text-anchor="start" font-weight="normal" >JPY</text><path d="M1010.4,18.650000000000002 L1012.8,21.05 L1015.1999999999999,18.650000000000002" fill="none" stroke="#222" stroke-width="1.2"/>
<circle cx="16.5" cy="17.2" r="8.8" fill="#dff2ee"/><circle cx="16.5" cy="17.2" r="4.4" fill="#1e5e4e"/><text x="8.1" y="40.2" font-size="12" fill="#d8707a" text-anchor="start" font-weight="normal" >184.931</text><text x="57.9" y="40.2" font-size="12" fill="#d8707a" text-anchor="start" font-weight="normal" >−0.082</text><text x="99.39999999999999" y="40.2" font-size="12" fill="#d8707a" text-anchor="start" font-weight="normal" >(−0.04%)</text><text x="8.1" y="60.3" font-size="11" fill="#222" text-anchor="start" font-weight="normal" >SMA</text><text x="8.1" y="82.6" font-size="11" fill="#222" text-anchor="start" font-weight="normal" >SMA</text><rect x="8.6" y="92.8" width="26" height="21.6" rx="3" fill="#fff" stroke="#e6e6e6" stroke-width="1"/><path d="M17.1,105.6 L21.6,101.2 L26.1,105.6" fill="none" stroke="#222" stroke-width="1.5"/>
<circle cx="529.4" cy="17.2" r="8.8" fill="#dff2ee"/><circle cx="529.4" cy="17.2" r="4.4" fill="#1e5e4e"/><text x="520.3" y="40.2" font-size="12" fill="#4f9d8b" text-anchor="start" font-weight="normal" >212.436</text><text x="570.0999999999999" y="40.2" font-size="12" fill="#4f9d8b" text-anchor="start" font-weight="normal" >+0.324</text><text x="611.5999999999999" y="40.2" font-size="12" fill="#4f9d8b" text-anchor="start" font-weight="normal" >(+0.15%)</text><text x="520.3" y="60.3" font-size="11" fill="#222" text-anchor="start" font-weight="normal" >SMA</text><text x="520.3" y="82.6" font-size="11" fill="#222" text-anchor="start" font-weight="normal" >SMA</text><rect x="520.8" y="92.8" width="26" height="21.6" rx="3" fill="#fff" stroke="#e6e6e6" stroke-width="1"/><path d="M529.3,105.6 L533.8,101.2 L538.3,105.6" fill="none" stroke="#222" stroke-width="1.5"/>
<defs><filter id="sh" x="-20%" y="-30%" width="140%" height="170%"><feDropShadow dx="0" dy="1.5" stdDeviation="1.5" flood-color="#000" flood-opacity="0.12"/></filter></defs>
<rect x="842" y="4.5" width="87" height="32.5" rx="6" fill="#ffffff" filter="url(#sh)"/>
<circle cx="849.3" cy="16.6" r="0.9" fill="#b8b8b8"/>
<circle cx="849.3" cy="21.1" r="0.9" fill="#b8b8b8"/>
<circle cx="849.3" cy="25.6" r="0.9" fill="#b8b8b8"/>
<circle cx="855.2" cy="16.6" r="0.9" fill="#b8b8b8"/>
<circle cx="855.2" cy="21.1" r="0.9" fill="#b8b8b8"/>
<circle cx="855.2" cy="25.6" r="0.9" fill="#b8b8b8"/>
<path d="M872.2,13.6 H888 V25.6 H876.3 L872.6,29.2 Z" fill="none" stroke="#2a2a2a" stroke-width="1.2" stroke-linejoin="round"/>
<rect x="904.2" y="11.4" width="15.4" height="11.6" fill="none" stroke="#2a2a2a" stroke-width="1.2"/>
<path d="M908.6,15.4 V14.2 H915 V15.4 M911.8,14.2 V20.6 M910.3,20.6 H913.3" fill="none" stroke="#2a2a2a" stroke-width="1.1"/>
<line x1="911.8" y1="23" x2="911.8" y2="27.6" stroke="#2a2a2a" stroke-width="1.1"/>
<circle cx="911.8" cy="29.4" r="1.8" fill="#fff" stroke="#2a2a2a" stroke-width="1.1"/>
<circle cx="395.4" cy="536.4" r="8.6" fill="#fff" stroke="#d9505c" stroke-width="1.3"/><circle cx="395.4" cy="536.4" r="2.9" fill="#e5414f"/>
<circle cx="918.3" cy="558.2" r="8.6" fill="#fff" stroke="#d9505c" stroke-width="1.3"/><circle cx="918.3" cy="558.2" r="2.9" fill="#e5414f"/>
<circle cx="389.2" cy="558.7" r="8.5" fill="#fff" stroke="#8a3fb0" stroke-width="1.3"/>
<circle cx="395.7" cy="558.7" r="8.8" fill="#fff" stroke="#d9505c" stroke-width="1.3"/>
<circle cx="395.7" cy="558.7" r="6.6" fill="#2f5ea8"/>
<circle cx="399.80" cy="558.70" r="0.6" fill="#9fb8e0"/>
<circle cx="399.25" cy="560.75" r="0.6" fill="#9fb8e0"/>
<circle cx="397.75" cy="562.25" r="0.6" fill="#9fb8e0"/>
<circle cx="395.70" cy="562.80" r="0.6" fill="#9fb8e0"/>
<circle cx="393.65" cy="562.25" r="0.6" fill="#9fb8e0"/>
<circle cx="392.15" cy="560.75" r="0.6" fill="#9fb8e0"/>
<circle cx="391.60" cy="558.70" r="0.6" fill="#9fb8e0"/>
<circle cx="392.15" cy="556.65" r="0.6" fill="#9fb8e0"/>
<circle cx="393.65" cy="555.15" r="0.6" fill="#9fb8e0"/>
<circle cx="395.70" cy="554.60" r="0.6" fill="#9fb8e0"/>
<circle cx="397.75" cy="555.15" r="0.6" fill="#9fb8e0"/>
<circle cx="399.25" cy="556.65" r="0.6" fill="#9fb8e0"/>
<path d="M10.7,544.5 H20.8 V557 H15.4 V548.6 H10.7 Z" fill="#111"/>
<circle cx="25.3" cy="546.6" r="1.9" fill="#111"/>
<path d="M30.6,544.5 H35.9 L30.6,557 H25.3 Z" fill="#111"/>
<text x="18.5" y="586.4" font-size="11" fill="#2a2a2a" text-anchor="middle" font-weight="600" >3月</text>
<text x="69.5" y="586.4" font-size="11" fill="#2a2a2a" text-anchor="middle" font-weight="normal" >6</text>
<text x="122.5" y="586.4" font-size="11" fill="#2a2a2a" text-anchor="middle" font-weight="normal" >12</text>
<text x="176.5" y="586.4" font-size="11" fill="#2a2a2a" text-anchor="middle" font-weight="normal" >18</text>
<text x="229" y="586.4" font-size="11" fill="#2a2a2a" text-anchor="middle" font-weight="normal" >24</text>
<text x="308" y="586.4" font-size="11" fill="#2a2a2a" text-anchor="middle" font-weight="600" >4月</text>
<text x="362" y="586.4" font-size="11" fill="#2a2a2a" text-anchor="middle" font-weight="normal" >7</text>
<text x="415.5" y="586.4" font-size="11" fill="#2a2a2a" text-anchor="middle" font-weight="normal" >11</text>
<defs><clipPath id="rc"><rect x="511" y="0" width="513" height="594"/></clipPath></defs>
<g clip-path="url(#rc)"><text x="515" y="586.4" font-size="11" fill="#2a2a2a" text-anchor="middle" font-weight="600" >3月</text></g>
<g clip-path="url(#rc)"><text x="570" y="586.4" font-size="11" fill="#2a2a2a" text-anchor="middle" font-weight="normal" >6</text></g>
<g clip-path="url(#rc)"><text x="627.5" y="586.4" font-size="11" fill="#2a2a2a" text-anchor="middle" font-weight="normal" >12</text></g>
<g clip-path="url(#rc)"><text x="684" y="586.4" font-size="11" fill="#2a2a2a" text-anchor="middle" font-weight="normal" >18</text></g>
<g clip-path="url(#rc)"><text x="729" y="586.4" font-size="11" fill="#2a2a2a" text-anchor="middle" font-weight="normal" >23</text></g>
<g clip-path="url(#rc)"><text x="826" y="586.4" font-size="11" fill="#2a2a2a" text-anchor="middle" font-weight="600" >4月</text></g>
<g clip-path="url(#rc)"><text x="870.5" y="586.4" font-size="11" fill="#2a2a2a" text-anchor="middle" font-weight="normal" >6</text></g>
<g clip-path="url(#rc)"><text x="925" y="586.4" font-size="11" fill="#2a2a2a" text-anchor="middle" font-weight="normal" >10</text></g>
<polygon points="488.00,582.10 485.00,586.78 479.00,586.78 476.00,582.10 479.00,577.42 485.00,577.42" fill="none" stroke="#2a2a2a" stroke-width="1.2"/>
<circle cx="482" cy="582.1" r="2" fill="none" stroke="#2a2a2a" stroke-width="1.2"/>
<rect x="1" y="5.7" width="508.9" height="587.3" fill="none" stroke="#1c1c1c" stroke-width="1.9"/>
</svg>
</body></html>
